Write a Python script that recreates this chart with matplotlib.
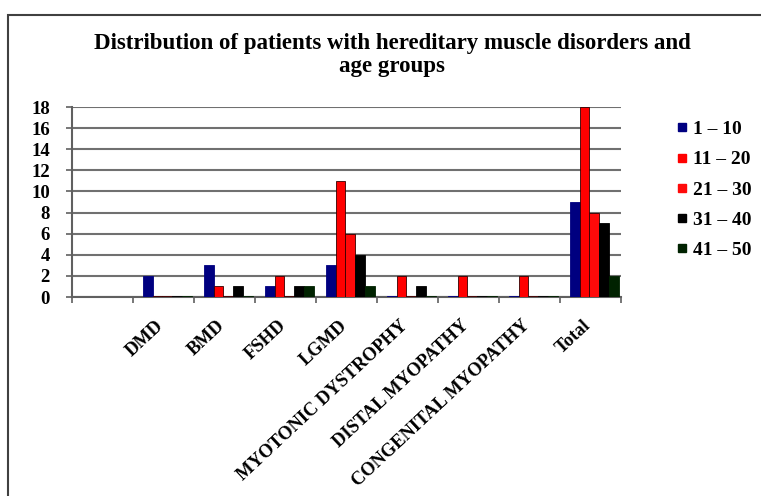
import numpy as np
import matplotlib.pyplot as plt
from matplotlib.patches import Rectangle
from matplotlib.lines import Line2D

#------------------------------- chart data -------------------------------
categories = ['', 'DMD', 'BMD', 'FSHD', 'LGMD', 'MYOTONIC DYSTROPHY',
              'DISTAL MYOPATHY', 'CONGENITAL MYOPATHY', 'Total']
groups = ['1 – 10', '11 – 20', '21 – 30', '31 – 40', '41 – 50']
age_1_10 = [0, 2, 3, 1, 3, 0, 0, 0, 9]
age_11_20 = [0, 0, 1, 2, 11, 2, 2, 2, 18]
age_21_30 = [0, 0, 0, 0, 6, 0, 0, 0, 8]
age_31_40 = [0, 0, 1, 1, 4, 1, 0, 0, 7]
age_41_50 = [0, 0, 0, 1, 1, 0, 0, 0, 2]
yticks = list(range(0, 20, 2))

#------------------------------- styling ----------------------------------
series = [age_1_10, age_11_20, age_21_30, age_31_40, age_41_50]
colors = ['#000080', '#ff0000', '#ff0a0a', '#000000', '#002200']
plt.rcParams['font.family'] = ['Liberation Serif', 'DejaVu Serif']
plt.rcParams['font.weight'] = 'bold'

fig = plt.figure(figsize=(7.61, 4.96), dpi=100)
ax = fig.add_axes((72 / 761, 1 - 297 / 496, (621 - 72) / 761, 190 / 496))

# outer frame of the chart area
fig.add_artist(Rectangle((8 / 761, -0.1), 1.2, 1 - 15 / 496 + 0.1,
                         transform=fig.transFigure, fill=False,
                         edgecolor='#404040', linewidth=1.5))

x = np.arange(len(categories))
bw = 0.16
for i, (vals, col) in enumerate(zip(series, colors)):
    vals = np.array(vals, dtype=float)
    # zero values still show as a thin flat bar in the original
    shown = np.where(vals == 0, 0.12, vals)
    mask = x > 0
    ax.bar(x[mask] + 0.5 + 0.06 + (i - 2) * bw, shown[mask], width=bw,
           color=col, edgecolor='#330000' if col.startswith('#ff') else col,
           linewidth=0.6, zorder=3)

ax.set_xlim(0, len(categories))
ax.set_ylim(0, 18)
ax.set_yticks(yticks)
ax.set_yticklabels([str(t) for t in yticks], fontsize=13.5, fontweight='bold')
ax.set_xticks(np.arange(len(categories) + 1))
ax.set_xticklabels([])
for xi, lab in zip(x, categories):
    ax.text(xi + 0.37, -1.9, lab, rotation=43, ha='right', va='top',
            rotation_mode='anchor', fontsize=13.3, fontweight='bold')
ax.grid(axis='y', color='#707070', linewidth=1.5, zorder=0)
for s in ['top', 'right']:
    ax.spines[s].set_visible(False)
for s in ['left', 'bottom']:
    ax.spines[s].set_color('#606060')
    ax.spines[s].set_linewidth(1.5)
ax.tick_params(axis='both', color='#606060', width=1.2, length=4)
ax.tick_params(axis='y', pad=12)

fig.text(392 / 761, 1 - 55 / 496,
         'Distribution of patients with hereditary muscle disorders and\nage groups',
         ha='center', va='center', fontsize=16.5, fontweight='bold',
         linespacing=1.15)

handles = [Line2D([], [], marker='s', linestyle='', color=c, markersize=6)
           for c in colors]
fig.legend(handles, groups, loc='upper left', bbox_to_anchor=(659 / 761, 1 - 107 / 496),
           frameon=False, prop={'weight': 'bold', 'size': 14},
           labelspacing=0.65, handletextpad=0.05, handlelength=1.0,
           borderpad=0.2)

fig.savefig('out.png', dpi=100)
